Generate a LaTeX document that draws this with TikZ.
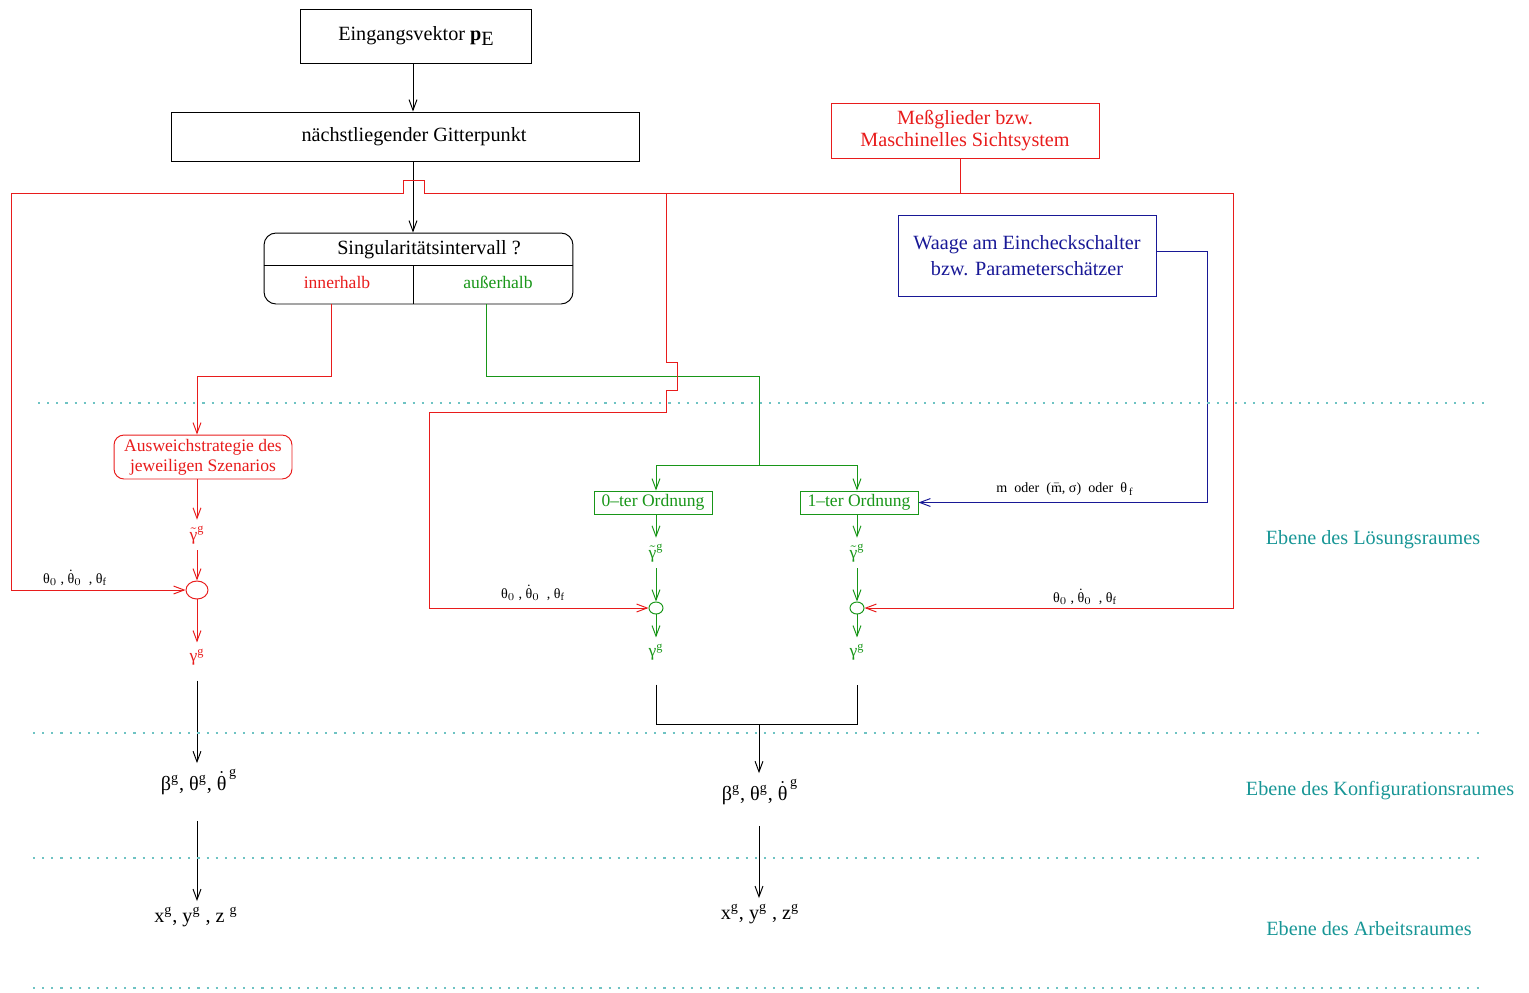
\documentclass[tikz,border=0pt]{standalone}
\usepackage{fontspec}
\setmainfont{Liberation Serif}
\usetikzlibrary{arrows.meta,positioning,shapes.geometric}
\definecolor{SigRed}{RGB}{232,28,28}
\definecolor{SigGreen}{RGB}{24,150,24}
\definecolor{SigBlue}{RGB}{24,24,150}
\definecolor{LayerTeal}{RGB}{24,150,150}
\definecolor{LayerDots}{RGB}{110,195,195}

\begin{document}
\begin{tikzpicture}[
x=0.02cm, y=-0.02cm,
line width=0.55pt,
>={Straight Barb[length=6pt,width=4.5pt]},
font=\fontsize{11.5}{14}\selectfont,
box/.style={
draw,
align=center,
inner sep=0pt
},
small/.style={font=\fontsize{10}{12}\selectfont},
tiny/.style={font=\fontsize{8}{10}\selectfont},
obox/.style={
draw=SigGreen,
text=SigGreen,
small,
minimum width=2.36cm,
minimum height=0.46cm,
inner sep=0pt
},
knot/.style={
ellipse,
draw,
inner sep=0pt
},
redline/.style={draw=SigRed},
greenline/.style={draw=SigGreen},
blueline/.style={draw=SigBlue},
layer/.style={text=LayerTeal},
dots/.style={
draw=LayerDots,
line width=1.2pt,
dash pattern=on 1.2pt off 4pt
}
]

\useasboundingbox (0,0) rectangle (1529,992);

\node[box, minimum width=4.64cm, minimum height=1.08cm] (eing) at (416,36) {Eingangsvektor \textbf{p}\raisebox{-0.6ex}{E}};
\node[box, minimum width=9.38cm, minimum height=0.98cm] (gitter) at (405.5,136.5) {\hspace{0.34cm}nächstliegender Gitterpunkt};
\node[box, draw=SigRed, text=SigRed, minimum width=5.36cm, minimum height=1.1cm, font=\fontsize{11.5}{13}\selectfont] (mess) at (965,130.5) {Meßglieder bzw.\\Maschinelles Sichtsystem};
\node[box, draw=SigBlue, text=SigBlue, minimum width=5.16cm, minimum height=1.62cm, font=\fontsize{11.5}{15}\selectfont] (waage) at (1027,255.5) {Waage am Eincheckschalter\\bzw. Parameterschätzer};

\node[draw, rounded corners=0.24cm, minimum width=6.18cm, minimum height=1.42cm] (sing) at (418.5,268.5) {};
\node (singtxt) at (429,250) {Singularitätsintervall ?};
\node[small, text=SigRed] (inner) at (337,282) {innerhalb};
\node[small, text=SigGreen] (ausser) at (498,282) {außerhalb};
\coordinate (split) at (413,265);
\draw (sing.west |- split) -- (sing.east |- split);
\draw (split) -- (split |- sing.south);

\draw[->] (split |- eing.south) -- (split |- gitter.north);
\draw[->] (split |- gitter.south) -- (split |- sing.north);

\coordinate (redL) at (11,193);
\coordinate (redR) at (1233,193);
\coordinate (redM) at (666,193);
\coordinate (messOut) at (960,193);
\draw[redline] (messOut |- mess.south) -- (messOut);
\draw[redline] (redL) -- (403,193) -- (403,180) -- (424,180) -- (424,193) -- (redR);

\node[box, draw=SigRed, text=SigRed, rounded corners=0.2cm, minimum width=3.56cm, minimum height=0.88cm, font=\fontsize{10}{11.5}\selectfont] (ausw) at (203,457) {Ausweichstrategie des\\jeweiligen Szenarios};
\node[small, text=SigRed] (gt0) at (197,535) {$\tilde{\hbox{γ}}^{\mathrm{g}}$};
\node[knot, draw=SigRed, minimum width=0.44cm, minimum height=0.36cm] (c0) at (197,590) {};
\node[small, text=SigRed] (g0) at (197,657) {γ$^{\mathrm{g}}$};
\node[tiny] (tl0) at (75,578) {θ$_0$ , $\dot{\hbox{θ}}_0$ \ , θ$_{\mathrm{f}}$};

\coordinate (innerOut) at (331,304);
\draw[redline, ->] (innerOut) -- ++(0,72) -| (gt0 |- ausw.north);
\draw[redline, ->] (gt0 |- ausw.south) -- (gt0);
\draw[redline, ->] (gt0) -- (c0);
\draw[redline, ->] (c0) -- (g0);
\draw[redline, ->] (redL) |- (c0);

\node[obox] (ord0) at (653,502.5) {0--ter Ordnung};
\node[obox] (ord1) at (859,502.5) {1--ter Ordnung};
\node[small, text=SigGreen] (gt1) at (656,553) {$\tilde{\hbox{γ}}^{\mathrm{g}}$};
\node[small, text=SigGreen] (gt2) at (857,553) {$\tilde{\hbox{γ}}^{\mathrm{g}}$};
\node[knot, draw=SigGreen, minimum width=0.28cm, minimum height=0.24cm] (c1) at (656,608) {};
\node[knot, draw=SigGreen, minimum width=0.28cm, minimum height=0.24cm] (c2) at (857,608) {};
\node[small, text=SigGreen] (g1) at (656,652) {γ$^{\mathrm{g}}$};
\node[small, text=SigGreen] (g2) at (857,652) {γ$^{\mathrm{g}}$};
\node[tiny] (tl1) at (533,593) {θ$_0$ , $\dot{\hbox{θ}}_0$ \ , θ$_{\mathrm{f}}$};
\node[tiny] (tl2) at (1085,597) {θ$_0$ , $\dot{\hbox{θ}}_0$ \ , θ$_{\mathrm{f}}$};
\node[tiny] (mlab) at (1065,489) {m\ \ oder\ \ ($\bar{\hbox{m}}$, σ)\ \ oder\ \ θ$_{\,\mathrm{f}}$};

\coordinate (ausOut) at (486,304);
\coordinate (gsplit) at (759,465);
\draw[greenline] (ausOut) -- ++(0,72) -| (gsplit);
\draw[greenline, ->] (gsplit) -| (gt1 |- ord0.north);
\draw[greenline, ->] (gsplit) -| (gt2 |- ord1.north);
\draw[greenline, ->] (gt1 |- ord0.south) -- (gt1);
\draw[greenline, ->] (gt2 |- ord1.south) -- (gt2);
\draw[greenline, ->] (gt1) -- (c1);
\draw[greenline, ->] (gt2) -- (c2);
\draw[greenline, ->] (c1) -- (g1);
\draw[greenline, ->] (c2) -- (g2);

\draw[redline, ->] (redM) -- ++(0,169) -- ++(11,0) -- ++(0,28) -- ++(-11,0) -- ++(0,22) -- ++(-237,0) |- (c1);
\draw[redline, ->] (redR) |- (c2);
\draw[blueline, ->] (waage.east |- 0,251) -- ++(51,0) |- (ord1.east);

\node (beta1) at (199,782) {β$^{\mathrm{g}}$, θ$^{\mathrm{g}}$, $\dot{\hbox{θ}}^{\,\mathrm{g}}$};
\node (beta2) at (760,792) {β$^{\mathrm{g}}$, θ$^{\mathrm{g}}$, $\dot{\hbox{θ}}^{\,\mathrm{g}}$};
\node (xyz1) at (196,917) {x\textsuperscript{g}, y\textsuperscript{g} , z \textsuperscript{g}};
\node (xyz2) at (760,914) {x\textsuperscript{g}, y\textsuperscript{g} , z\textsuperscript{g}};
\coordinate (join) at (759,724);

\draw[->, shorten <=0.18cm] (g0) -- (g0 |- beta1.north);
\draw[->, shorten <=0.4cm] (g0 |- beta1.south) -- (g0 |- xyz1.north);
\draw[shorten <=0.36cm, shorten >=0.36cm] (g1) |- (join) -| (g2);
\draw[->] (join) -- (join |- beta2.north);
\draw[->, shorten <=0.3cm] (join |- beta2.south) -- (join |- xyz2.north);

\node[layer] (ebL) at (1373,540) {Ebene des Lösungsraumes};
\node[layer] (ebK) at (1380,791) {Ebene des Konfigurationsraumes};
\node[layer] (ebA) at (1369,929) {Ebene des Arbeitsraumes};

\draw[dots] (38,403) -- (1485,403);
\draw[dots] (33,733) -- (1480,733);
\draw[dots] (33,858) -- (1480,858);
\draw[dots] (33,988) -- (1480,988);
\end{tikzpicture}
\end{document}
